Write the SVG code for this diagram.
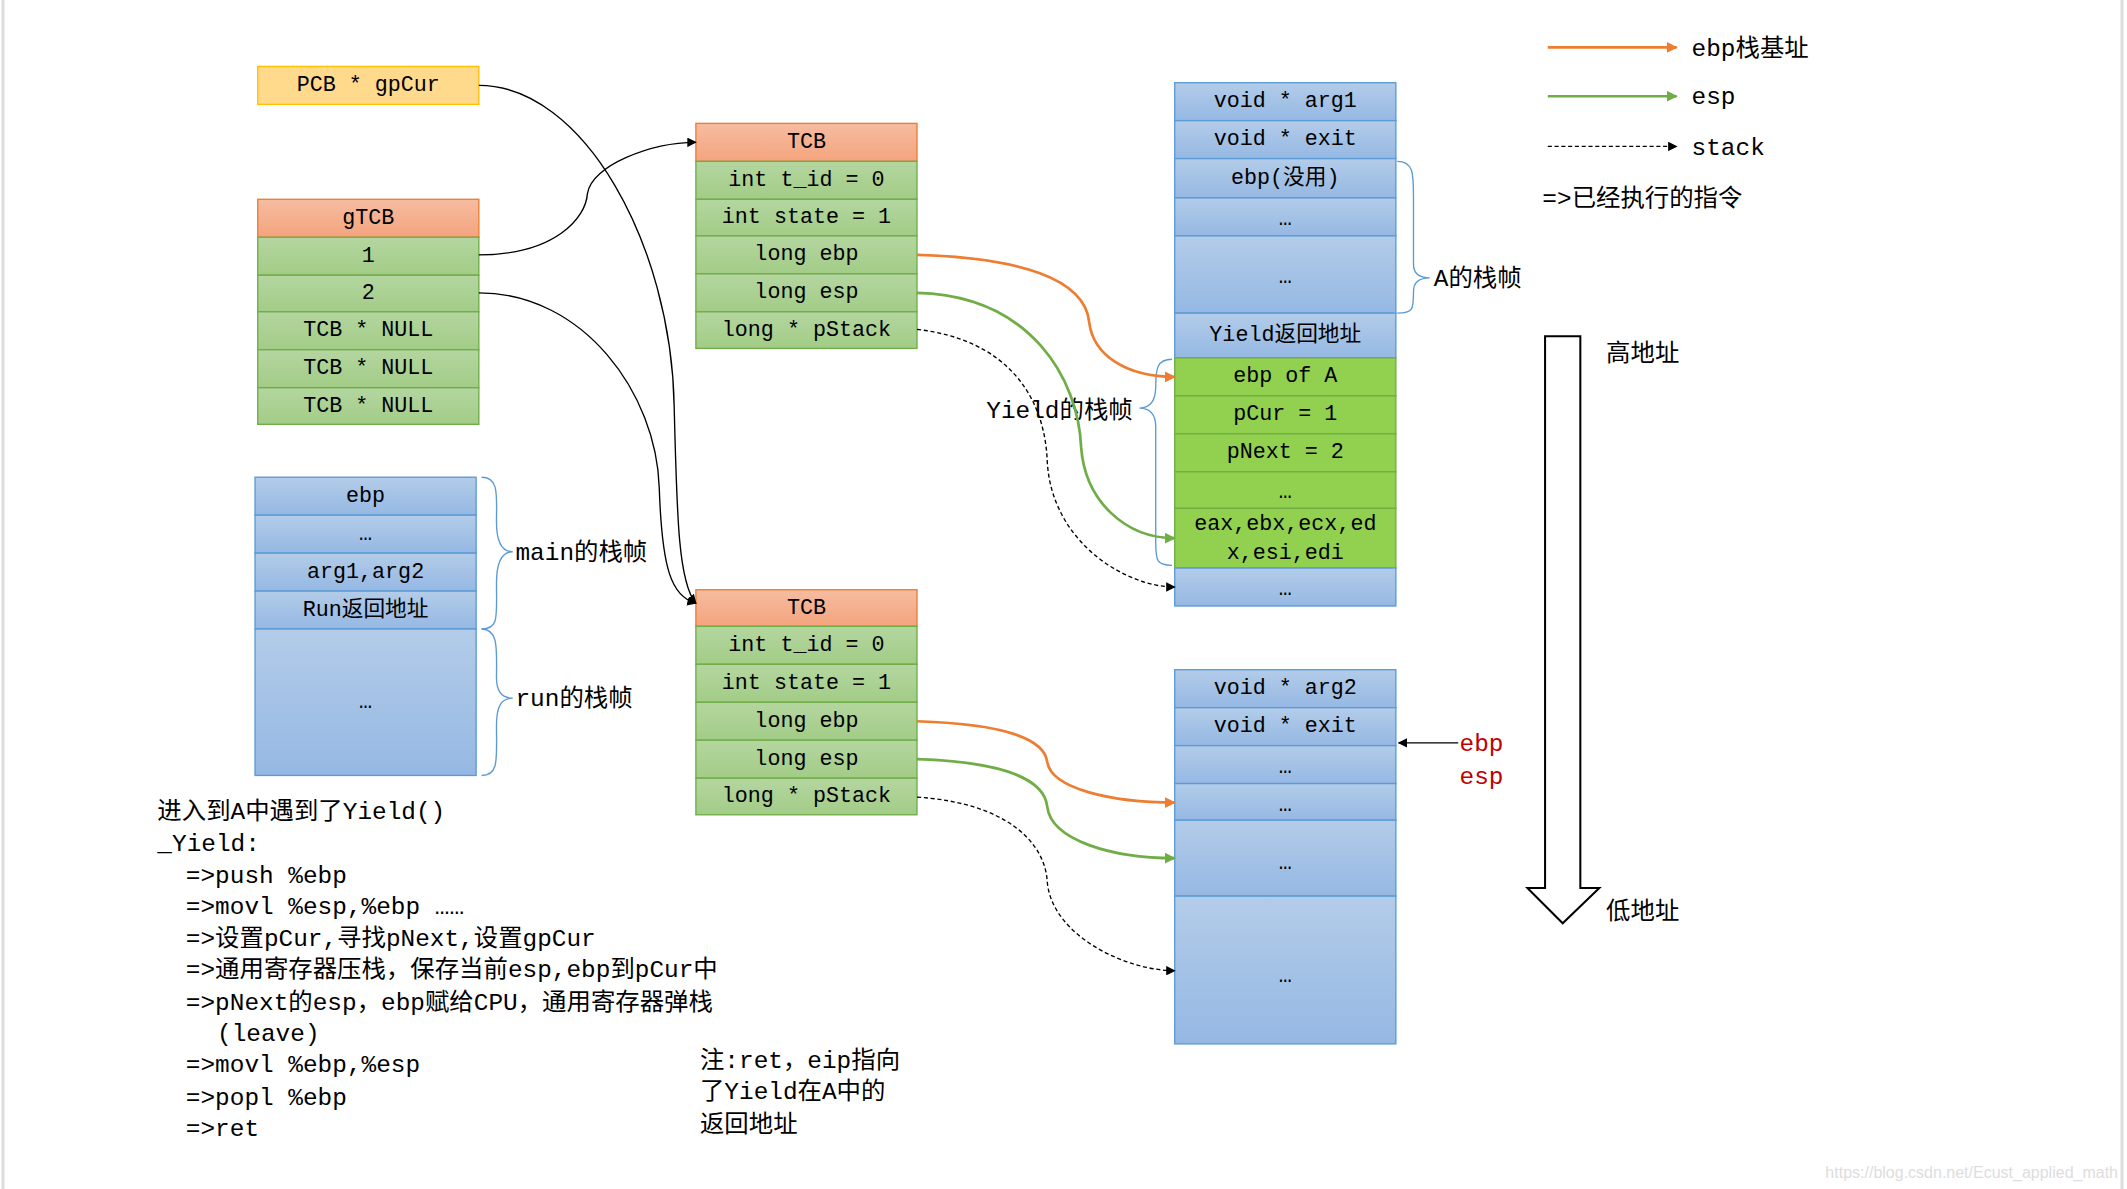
<svg xmlns="http://www.w3.org/2000/svg" width="2127" height="1189" viewBox="0 0 2127 1189">
<defs>
<linearGradient id="gb" x1="0" y1="0" x2="0" y2="1"><stop offset="0" stop-color="#B3CCE9"/><stop offset="1" stop-color="#95B8E3"/></linearGradient>
<linearGradient id="gg" x1="0" y1="0" x2="0" y2="1"><stop offset="0" stop-color="#B4D6A0"/><stop offset="1" stop-color="#A2CC86"/></linearGradient>
<linearGradient id="go" x1="0" y1="0" x2="0" y2="1"><stop offset="0" stop-color="#F6BCA0"/><stop offset="1" stop-color="#F4A47E"/></linearGradient>
<marker id="mb" viewBox="0 0 10 10" refX="9" refY="5" markerWidth="7" markerHeight="7" orient="auto" markerUnits="userSpaceOnUse"><path d="M0,0 L10,5 L0,10 z" fill="#000"/></marker>
<marker id="mo" viewBox="0 0 10 10" refX="9" refY="5" markerWidth="8" markerHeight="8" orient="auto" markerUnits="userSpaceOnUse"><path d="M0,0 L10,5 L0,10 z" fill="#ED7D31"/></marker>
<marker id="mg" viewBox="0 0 10 10" refX="9" refY="5" markerWidth="8" markerHeight="8" orient="auto" markerUnits="userSpaceOnUse"><path d="M0,0 L10,5 L0,10 z" fill="#70AD47"/></marker>
</defs>
<style>
.b{fill:url(#gb);stroke:#5B9BD5;stroke-width:1}
.g{fill:url(#gg);stroke:#70AD47;stroke-width:1}
.G{fill:#92D050;stroke:#70AD47;stroke-width:1}
.o{fill:url(#go);stroke:#ED7D31;stroke-width:1}
.y{fill:#FFD98C;stroke:#FFC000;stroke-width:1}
text{font-family:"Liberation Mono","Noto Sans CJK SC",monospace;font-size:16px;fill:#000}
.c{text-anchor:middle;dominant-baseline:central}
.t{font-size:18px}
.br{fill:none;stroke:#5B9BD5;stroke-width:1}
.k{fill:none;stroke:#000;stroke-width:1}
.d{fill:none;stroke:#000;stroke-width:1;stroke-dasharray:3,2}
.or{fill:none;stroke:#ED7D31;stroke-width:2}
.gr{fill:none;stroke:#70AD47;stroke-width:2}
</style>
<rect width="2127" height="1189" fill="#fff"/>
<path d="M3,0 L3,1189 M2122,0 L2122,1189" stroke="#ddd" stroke-width="3" fill="none"/>
<g transform="scale(1.35651,1.3557)">
<g id="pcb"><rect class="y" x="190" y="49" width="163" height="28"/><text class="c" x="271.5" y="63">PCB * gpCur</text></g>
<g id="gtcb">
<rect class="o" x="190" y="147" width="163" height="28"/><text class="c" x="271.5" y="161">gTCB</text>
<rect class="g" x="190" y="175" width="163" height="28"/><text class="c" x="271.5" y="189">1</text>
<rect class="g" x="190" y="203" width="163" height="27"/><text class="c" x="271.5" y="216.5">2</text>
<rect class="g" x="190" y="230" width="163" height="28"/><text class="c" x="271.5" y="244">TCB * NULL</text>
<rect class="g" x="190" y="258" width="163" height="28"/><text class="c" x="271.5" y="272">TCB * NULL</text>
<rect class="g" x="190" y="286" width="163" height="27"/><text class="c" x="271.5" y="299.5">TCB * NULL</text>
</g>
<g id="mainstack">
<rect class="b" x="188" y="352" width="163" height="28"/><text class="c" x="269.5" y="366">ebp</text>
<rect class="b" x="188" y="380" width="163" height="28"/><text class="c" x="269.5" y="394">…</text>
<rect class="b" x="188" y="408" width="163" height="28"/><text class="c" x="269.5" y="422">arg1,arg2</text>
<rect class="b" x="188" y="436" width="163" height="28"/><text class="c" x="269.5" y="450">Run返回地址</text>
<rect class="b" x="188" y="464" width="163" height="108"/><text class="c" x="269.5" y="518">…</text>
<path class="br" d="M355,352 C368,352 366,365 366,385 C366,400 370,407 378,407 C370,407 366,414 366,430 C366,455 368,464 355,464"/>
<text class="t" x="380" y="413">main的栈帧</text>
<path class="br" d="M355,464 C368,464 366,480 366,500 C366,510 370,515 378,515 C370,515 366,520 366,535 C366,560 368,572 355,572"/>
<text class="t" x="380" y="521">run的栈帧</text>
</g>
<g id="tcb1">
<rect class="o" x="513" y="91" width="163" height="28"/><text class="c" x="594.5" y="105">TCB</text>
<rect class="g" x="513" y="119" width="163" height="28"/><text class="c" x="594.5" y="133">int t_id = 0</text>
<rect class="g" x="513" y="147" width="163" height="27"/><text class="c" x="594.5" y="160.5">int state = 1</text>
<rect class="g" x="513" y="174" width="163" height="28"/><text class="c" x="594.5" y="188">long ebp</text>
<rect class="g" x="513" y="202" width="163" height="28"/><text class="c" x="594.5" y="216">long esp</text>
<rect class="g" x="513" y="230" width="163" height="27"/><text class="c" x="594.5" y="243.5">long * pStack</text>
</g>
<g id="tcb2">
<rect class="o" x="513" y="435" width="163" height="27"/><text class="c" x="594.5" y="448.5">TCB</text>
<rect class="g" x="513" y="462" width="163" height="28"/><text class="c" x="594.5" y="476">int t_id = 0</text>
<rect class="g" x="513" y="490" width="163" height="28"/><text class="c" x="594.5" y="504">int state = 1</text>
<rect class="g" x="513" y="518" width="163" height="28"/><text class="c" x="594.5" y="532">long ebp</text>
<rect class="g" x="513" y="546" width="163" height="28"/><text class="c" x="594.5" y="560">long esp</text>
<rect class="g" x="513" y="574" width="163" height="27"/><text class="c" x="594.5" y="587.5">long * pStack</text>
</g>
<g id="astack">
<rect class="b" x="866" y="61" width="163" height="28"/><text class="c" x="947.5" y="75">void * arg1</text>
<rect class="b" x="866" y="89" width="163" height="28"/><text class="c" x="947.5" y="103">void * exit</text>
<rect class="b" x="866" y="117" width="163" height="29"/><text class="c" x="947.5" y="131.5">ebp(没用)</text>
<rect class="b" x="866" y="146" width="163" height="28"/><text class="c" x="947.5" y="162">…</text>
<rect class="b" x="866" y="174" width="163" height="57"/><text class="c" x="947.5" y="205">…</text>
<rect class="b" x="866" y="231" width="163" height="33"/><text class="c" x="947.5" y="247.5">Yield返回地址</text>
<rect class="G" x="866" y="264" width="163" height="28"/><text class="c" x="947.5" y="278">ebp of A</text>
<rect class="G" x="866" y="292" width="163" height="28"/><text class="c" x="947.5" y="306">pCur = 1</text>
<rect class="G" x="866" y="320" width="163" height="28"/><text class="c" x="947.5" y="334">pNext = 2</text>
<rect class="G" x="866" y="348" width="163" height="27"/><text class="c" x="947.5" y="363">…</text>
<rect class="G" x="866" y="375" width="163" height="44"/><text class="c" x="947.5" y="387">eax,ebx,ecx,ed</text><text class="c" x="947.5" y="408">x,esi,edi</text>
<rect class="b" x="866" y="419" width="163" height="28"/><text class="c" x="947.5" y="435">…</text>
<path class="br" d="M1030,119 C1042,119 1042,128 1042,145 L1042,195 C1042,202 1046,205 1054,205 C1046,205 1042,208 1042,215 C1042,228 1042,231 1030,231"/>
<text class="t" x="1057" y="211">A的栈帧</text>
<path class="br" d="M864,265 C853,265 852,272 852,285 C852,296 848,301 840,301 C848,301 852,306 852,315 L852,400 C852,414 853,417 864,417"/>
<text class="t" x="835" y="308" text-anchor="end">Yield的栈帧</text>
</g>
<g id="bstack">
<rect class="b" x="866" y="494" width="163" height="28"/><text class="c" x="947.5" y="508">void * arg2</text>
<rect class="b" x="866" y="522" width="163" height="28"/><text class="c" x="947.5" y="536">void * exit</text>
<rect class="b" x="866" y="550" width="163" height="28"/><text class="c" x="947.5" y="566">…</text>
<rect class="b" x="866" y="578" width="163" height="27"/><text class="c" x="947.5" y="594">…</text>
<rect class="b" x="866" y="605" width="163" height="56"/><text class="c" x="947.5" y="637">…</text>
<rect class="b" x="866" y="661" width="163" height="109"/><text class="c" x="947.5" y="720">…</text>
</g>
<g id="ebpesp">
<path class="k" d="M1075,548 L1031,548" marker-end="url(#mb)"/>
<text class="t" x="1076" y="554" style="fill:#C00000">ebp</text>
<text class="t" x="1076" y="578" style="fill:#C00000">esp</text>
</g>
<g id="legend">
<path class="or" d="M1141,35 L1236,35" marker-end="url(#mo)"/><text class="t" x="1247" y="41">ebp栈基址</text>
<path class="gr" d="M1141,71 L1236,71" marker-end="url(#mg)"/><text class="t" x="1247" y="77">esp</text>
<path class="d" d="M1141,108 L1236,108" marker-end="url(#mb)"/><text class="t" x="1247" y="114">stack</text>
<text class="t" x="1137" y="152">=&gt;已经执行的指令</text>
</g>
<g id="addr">
<path d="M1139,248 L1165,248 L1165,655 L1179,655 L1152,681 L1126,655 L1139,655 Z" fill="#fff" stroke="#000" stroke-width="1.5"/>
<text class="t" x="1184" y="266">高地址</text>
<text class="t" x="1184" y="678">低地址</text>
</g>
<g id="code">
<text class="t" x="116" y="604">进入到A中遇到了Yield()</text>
<text class="t" x="116" y="628">_Yield:</text>
<text class="t" x="137" y="651">=&gt;push %ebp</text>
<text class="t" x="137" y="674">=&gt;movl %esp,%ebp ……</text>
<text class="t" x="137" y="698">=&gt;设置pCur,寻找pNext,设置gpCur</text>
<text class="t" x="137" y="721">=&gt;通用寄存器压栈，保存当前esp,ebp到pCur中</text>
<text class="t" x="137" y="745">=&gt;pNext的esp，ebp赋给CPU，通用寄存器弹栈</text>
<text class="t" x="160" y="768">(leave)</text>
<text class="t" x="137" y="791">=&gt;movl %ebp,%esp</text>
<text class="t" x="137" y="815">=&gt;popl %ebp</text>
<text class="t" x="137" y="838">=&gt;ret</text>
<text class="t" x="516" y="788">注:ret，eip指向</text>
<text class="t" x="516" y="811">了Yield在A中的</text>
<text class="t" x="516" y="835">返回地址</text>
</g>
<g id="connectors">
<path class="k" d="M353,63 C430,63 495,180 497,300 C499,380 500,430 513,445" marker-end="url(#mb)"/>
<path class="k" d="M353,188 C410,188 432,160 433,143 C436,122 480,105 513,105" marker-end="url(#mb)"/>
<path class="k" d="M353,216 C430,216 484,290 486,360 C488,420 495,440 513,445" marker-end="url(#mb)"/>
<path class="or" d="M676,188 C750,190 800,205 803,238 C806,262 830,278 866,278" marker-end="url(#mo)"/>
<path class="gr" d="M676,216 C760,218 795,280 797,330 C800,370 830,397 866,397" marker-end="url(#mg)"/>
<path class="d" d="M676,243 C740,250 770,290 772,340 C775,400 830,433 866,433" marker-end="url(#mb)"/>
<path class="or" d="M676,532 C740,534 770,545 772,562 C775,582 820,592 866,592" marker-end="url(#mo)"/>
<path class="gr" d="M676,560 C740,562 770,575 772,595 C775,620 820,633 866,633" marker-end="url(#mg)"/>
<path class="d" d="M676,588 C740,592 770,620 772,650 C775,690 830,716 866,716" marker-end="url(#mb)"/>
</g>
</g>
<text x="2118" y="1178" text-anchor="end" style="font-family:'Liberation Sans',sans-serif;font-size:16px;fill:#ddd">https://blog.csdn.net/Ecust_applied_math</text>
</svg>
